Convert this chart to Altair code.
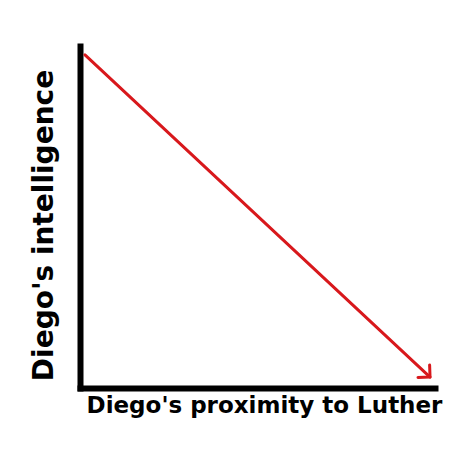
import altair as alt
import pandas as pd

# Values
line_x = [0.14, 9.86]
line_y = [9.74, 0.32]
x_title = "Diego's proximity to Luther"
y_title = "Diego's intelligence"

df = pd.DataFrame({"x": line_x, "y": line_y})
tip = df.iloc[[1]]

RED = "#d8181c"
FONT = "DejaVu Sans"

xs = alt.Scale(domain=[0, 10], nice=False, zero=False)
ys = alt.Scale(domain=[0, 10], nice=False, zero=False)

x_axis = alt.Axis(title=x_title, ticks=False, labels=False, grid=False,
                  domainColor="black", domainWidth=6, domainCap="square",
                  titleFont=FONT, titleFontSize=23, titleFontWeight="bold",
                  titleColor="black", titlePadding=6, titleX=184)
y_axis = alt.Axis(title=y_title, ticks=False, labels=False, grid=False,
                  domainColor="black", domainWidth=6, domainCap="square",
                  titleFont=FONT, titleFontSize=28, titleFontWeight="bold",
                  titleColor="black", titlePadding=22, titleY=179)

line = alt.Chart(df).mark_line(color=RED, strokeWidth=3, strokeCap="round").encode(
    x=alt.X("x:Q", scale=xs, axis=x_axis),
    y=alt.Y("y:Q", scale=ys, axis=y_axis),
)

head = alt.Chart(tip).mark_point(
    shape="M-1,-1L0,0L-1,1", filled=False, color=RED, strokeWidth=3,
    size=290, angle=43, opacity=1, strokeCap="round", strokeJoin="round"
).encode(
    x=alt.X("x:Q", scale=xs),
    y=alt.Y("y:Q", scale=ys),
)

chart = (line + head).properties(
    width=355, height=342,
    autosize=alt.AutoSizeParams(type="none"),
    padding={"left": 72, "top": 38, "right": 31, "bottom": 78},
    background="white",
).configure_view(stroke=None)

chart.save("out.html", embed_options={"renderer": "svg", "actions": False})
